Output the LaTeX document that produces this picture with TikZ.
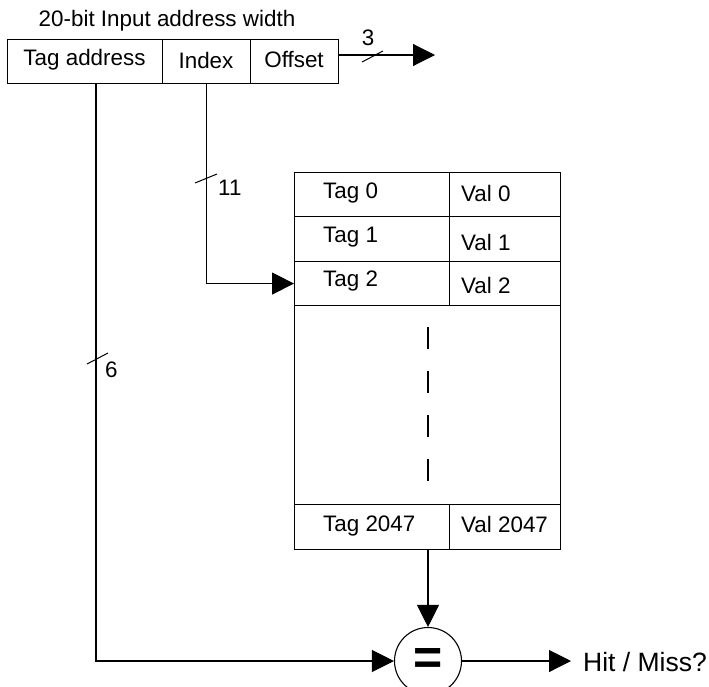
\documentclass[tikz,border=0pt]{standalone}
\usepackage{fontspec}
\setmainfont{Liberation Sans}
\usetikzlibrary{arrows.meta}
\begin{document}
\begin{tikzpicture}[x=1pt,y=-1pt,
  every node/.style={font=\fontsize{22.4}{27}\selectfont},
  ln/.style={line width=1.1pt, black},
  box/.style={draw, ln, inner sep=0pt, anchor=north west, minimum height=44pt},
  cell/.style={box},
  txt/.style={anchor=west, inner sep=0pt},
  arr/.style={ln, -{Triangle[length=22pt,width=22pt]}},
  slash/.style={line width=1pt},
  bus/.style={anchor=west, inner sep=0pt}]
\clip (0,0) rectangle (709,686);
\useasboundingbox (0,0) rectangle (709,686);
\fill[white] (0,0) rectangle (709,686);

% title and address fields
\node[inner sep=0pt] (title) at (167,21) {20-bit Input address width};
\node[box, minimum width=155pt] (tagaddr) at (7,39) {};
\node[box, minimum width=88pt] (index) at (162,39) {};
\node[box, minimum width=88pt] (offset) at (250,39) {};
\node[inner sep=0pt] (tagaddrT) at (84.5,60) {Tag address};
\node[inner sep=0pt] (indexT) at (206,60) {Index};
\node[inner sep=0pt] (offsetT) at (294,60) {Offset};

% table
\node[cell, minimum width=155pt] (tag0) at (294,172) {};
\node[cell, minimum width=111pt] (val0) at (449,172) {};
\node[cell, minimum width=155pt, minimum height=45pt] (tag1) at (294,216) {};
\node[cell, minimum width=111pt, minimum height=45pt] (val1) at (449,216) {};
\node[cell, minimum width=155pt] (tag2) at (294,261) {};
\node[cell, minimum width=111pt] (val2) at (449,261) {};
\node[cell, minimum width=266pt, minimum height=199pt] (mid) at (294,305) {};
\node[cell, minimum width=155pt, minimum height=45pt] (tagN) at (294,504) {};
\node[cell, minimum width=111pt, minimum height=45pt] (valN) at (449,504) {};

\node[txt] (t0) at (323,193) {Tag 0};
\node[txt] (v0) at (461,193) {Val 0};
\node[txt] (t1) at (323,237) {Tag 1};
\node[txt] (v1) at (461,242) {Val 1};
\node[txt] (t2) at (323,281) {Tag 2};
\node[txt] (v2) at (461,285) {Val 2};
\node[txt] (tN) at (323,526) {Tag 2047};
\node[txt] (vN) at (461,524) {Val 2047};

\coordinate (dotsA) at (428,327);
\coordinate (dotsB) at (428,482);
\draw[ln, dash pattern=on 22pt off 22pt] (dotsA) -- (dotsB);

% comparator
\node[draw, ln, circle, minimum size=67pt, inner sep=0pt] (cmp) at (428,661) {};
\node[inner sep=0pt, font=\fontsize{50}{50}\selectfont\bfseries] (eq) at (cmp.center) {=};

% connectors
\coordinate (offOut) at (338,55);
\coordinate (offEnd) at (435,55);
\draw[arr] (offOut) -- (offEnd);
\draw[slash] (362,62) -- (383,51);
\node[inner sep=0pt] (n3) at (368,38) {3};

\draw[arr] (index.south) |- (tag2.west);
\draw[slash] (195,183) -- (217,174);
\node[bus] (n11) at (218,188) {11};

\coordinate (tagtap) at (96,83);
\draw[arr] (tagtap) |- (cmp.west);
\draw[slash] (87,364) -- (108,353);
\node[bus] (n6) at (105,370) {6};

\coordinate (tabOut) at (428,549);
\draw[arr] (tabOut) -- (cmp.north);

\coordinate (hmEnd) at (571,661);
\draw[arr] (cmp.east) -- (hmEnd);
\node[bus, font=\fontsize{26.5}{30}\selectfont] (hm) at (583,662) {Hit / Miss?};
\end{tikzpicture}
\end{document}
